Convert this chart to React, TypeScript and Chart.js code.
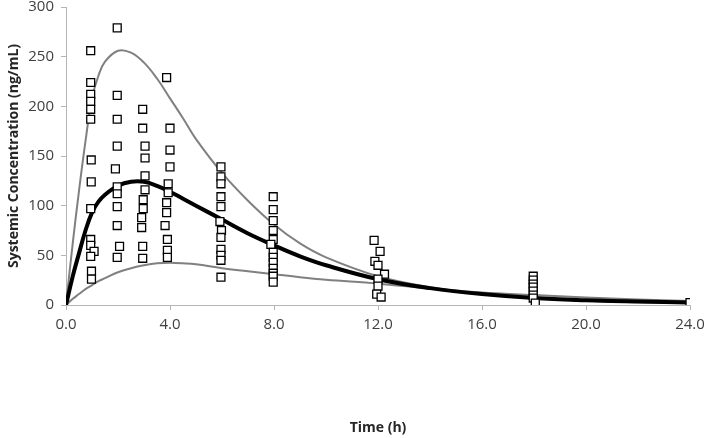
import { useEffect, useRef } from "react";
import { Chart, registerables } from "chart.js";
Chart.register(...registerables);

// Model curves (time in h, concentration in ng/mL)
const curveTimes = [0, 0.25, 0.5, 0.75, 1, 1.25, 1.5, 2, 2.5, 3, 3.5, 4, 4.5, 5, 6, 7, 8, 9, 10, 12, 14, 16, 18, 20, 22, 24];
const upperCurve = [0, 60, 115, 165, 208, 231, 245, 256, 254, 244, 228, 208, 188, 167, 133, 105, 81, 62, 48, 29, 18, 11, 7, 4.3, 2.8, 1.8];
const meanCurve = [0, 28, 52, 75, 93, 104, 111, 120, 124, 124, 120, 114, 107, 100, 86, 72, 60, 49, 40, 26, 17, 11, 7, 4.8, 3.4, 2.5];
const lowerCurve = [0, 6, 11, 16, 20, 24, 27, 33, 37, 40, 42, 42.5, 42, 41, 37, 34, 31, 28, 25.5, 21.5, 16.5, 12.5, 10, 7.5, 5.5, 4];

// Observed concentrations
const obsTimes = [
  0.95, 0.95, 0.95, 0.95, 0.95, 0.95, 0.97, 0.97, 0.95, 0.95, 0.95, 1.08, 0.95, 0.98, 0.98,
  1.97, 1.97, 1.97, 1.97, 1.9, 1.97, 1.97, 1.97, 1.97, 2.06, 1.97,
  2.95, 2.95, 3.04, 3.04, 3.04, 3.04, 2.97, 2.97, 2.91, 2.91, 2.95, 2.95,
  3.87, 4.0, 4.0, 4.0, 3.93, 3.93, 3.87, 3.87, 3.81, 3.9, 3.9, 3.9,
  5.96, 5.96, 5.96, 5.96, 5.96, 5.92, 5.98, 5.96, 5.96, 5.96, 5.96, 5.96,
  7.97, 7.97, 7.97, 7.97, 7.97, 7.88, 7.97, 7.97, 7.97, 7.97, 7.97, 7.97, 7.97,
  11.85, 12.08, 11.88, 12.0, 12.25, 12.0, 12.0, 11.95, 12.12,
  17.97, 17.97, 17.97, 17.97, 17.97, 17.97, 17.97, 18.05,
  24.0,
];
const obsConc = [
  256, 224, 212, 205, 197, 187, 146, 124, 97, 66, 60, 54, 49, 34, 26,
  279, 211, 187, 160, 137, 119, 112, 99, 80, 59, 48,
  197, 178, 160, 148, 130, 116, 106, 97, 88, 78, 59, 47,
  229, 178, 156, 139, 122, 113, 103, 93, 80, 66, 55, 48,
  139, 129, 122, 109, 99, 84, 75, 68, 56, 50, 45, 28,
  109, 96, 85, 75, 66, 61, 53, 48, 43, 37, 32, 29, 23,
  65, 54, 44, 40, 31, 26, 19, 11, 8,
  29, 25, 21, 18, 14, 10, 7, 2,
  2.5,
];

const xTickValues = [0, 4, 8, 12, 16, 20, 24];
const yTickValues = [0, 50, 100, 150, 200, 250, 300];
const xTitle = "Time (h)";
const yTitle = "Systemic Concentration (ng/mL)";

const toPoints = (xs: number[], ys: number[]) => xs.map((x, i) => ({ x, y: ys[i] }));

export default function App() {
  const ref = useRef<HTMLCanvasElement>(null);
  useEffect(() => {
    if (!ref.current) return;
    const axisColor = "#b5b5b5";
    const fam = '"Open Sans", "Noto Sans", sans-serif';
    const lineBase = { showLine: true, pointRadius: 0, tension: 0.4 };
    const chart = new Chart(ref.current, {
      type: "scatter",
      data: {
        datasets: [
          {
            label: "Observed",
            data: toPoints(obsTimes, obsConc),
            pointStyle: "rect",
            pointRadius: 5.6,
            backgroundColor: "#ffffff",
            borderColor: "#000000",
            borderWidth: 1.3,
            showLine: false,
            order: 0,
          },
          {
            ...lineBase,
            label: "Mean",
            data: toPoints(curveTimes, meanCurve),
            borderColor: "#000000",
            borderWidth: 4,
            order: 1,
          },
          {
            ...lineBase,
            label: "Upper",
            data: toPoints(curveTimes, upperCurve),
            borderColor: "#808080",
            borderWidth: 2,
            order: 2,
          },
          {
            ...lineBase,
            label: "Lower",
            data: toPoints(curveTimes, lowerCurve),
            borderColor: "#808080",
            borderWidth: 2,
            order: 2,
          },
        ] as any,
      },
      options: {
        animation: false,
        responsive: true,
        maintainAspectRatio: false,
        layout: { padding: { top: 7, right: 19, left: 0, bottom: 0 } },
        plugins: { legend: { display: false }, tooltip: { enabled: false } },
        scales: {
          x: {
            type: "linear",
            min: 0,
            max: 24,
            afterBuildTicks: (s: any) => {
              s.ticks = xTickValues.map((v) => ({ value: v }));
            },
            afterFit: (s: any) => {
              s.height = 133;
              s.paddingLeft = 0;
              s.paddingRight = 0;
            },
            grid: { drawOnChartArea: false, tickLength: 5, color: axisColor },
            border: { color: axisColor, width: 1 },
            ticks: {
              maxRotation: 0,
              padding: 6,
              color: "#404040",
              font: { family: fam, size: 15 },
              callback: (v: any) => Number(v).toFixed(1),
            },
            title: {
              display: true,
              text: xTitle,
              color: "#262626",
              font: { family: fam, size: 14, weight: "bold" },
              padding: { top: 0, bottom: 2 },
            },
          },
          y: {
            type: "linear",
            min: 0,
            max: 300,
            afterBuildTicks: (s: any) => {
              s.ticks = yTickValues.map((v) => ({ value: v }));
            },
            afterFit: (s: any) => {
              s.width = 66;
              s.paddingTop = 0;
              s.paddingBottom = 0;
            },
            grid: { drawOnChartArea: false, tickLength: 5, color: axisColor },
            border: { color: axisColor, width: 1 },
            ticks: {
              padding: 7,
              color: "#404040",
              font: { family: fam, size: 15, lineHeight: 1 },
            },
            title: {
              display: true,
              text: yTitle,
              color: "#262626",
              font: { family: fam, size: 14, weight: "bold" },
              padding: { top: 6, bottom: 0 },
            },
          },
        },
      } as any,
    });
    return () => chart.destroy();
  }, []);
  return (
    <div style={{ position: "absolute", left: 0, top: 0, width: 709, height: 438 }}>
      <canvas ref={ref} />
    </div>
  );
}
